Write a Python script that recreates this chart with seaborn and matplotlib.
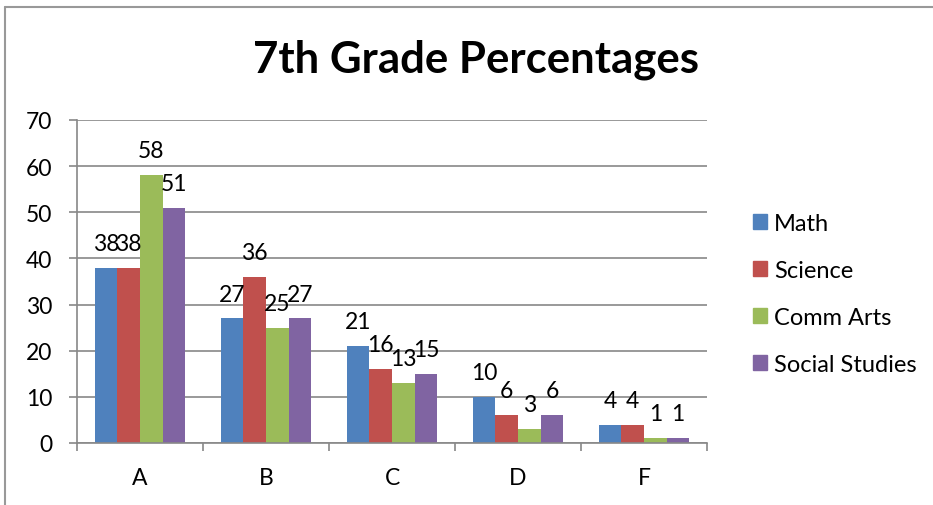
import numpy as np
import pandas as pd
import matplotlib
matplotlib.use('Agg')
import matplotlib.pyplot as plt
import seaborn as sns
from matplotlib.lines import Line2D

grades = ['A', 'B', 'C', 'D', 'F']
subjects = ['Math', 'Science', 'Comm Arts', 'Social Studies']
math = [38, 27, 21, 10, 4]
science = [38, 36, 16, 6, 4]
comm_arts = [58, 25, 13, 3, 1]
social_studies = [51, 27, 15, 6, 1]
yticks = [0, 10, 20, 30, 40, 50, 60, 70]

colors = ['#4F81BD', '#C0504D', '#9BBB59', '#8064A2']

df = pd.DataFrame({
    'grade': grades * 4,
    'subject': np.repeat(subjects, len(grades)),
    'pct': math + science + comm_arts + social_studies,
})

sns.set_theme(style='white')
plt.rcParams['font.family'] = ['Lato', 'DejaVu Sans']
plt.rcParams['text.color'] = 'black'
grid_c = '#888888'

fig = plt.figure(figsize=(9.33, 5.06), dpi=100)
ax = fig.add_axes([77 / 933, 1 - 444 / 506, 630 / 933, 323 / 506])

sns.barplot(data=df, x='grade', y='pct', hue='subject', hue_order=subjects,
            palette=colors, width=0.72, saturation=1, linewidth=0, ax=ax, errorbar=None)

for cont in ax.containers:
    ax.bar_label(cont, padding=10, fontsize=16.5, color='black')

ax.set_ylim(0, 70)
ax.set_yticks(yticks)
ax.set_xlim(-0.5, len(grades) - 0.5)
ax.set_xlabel('')
ax.set_ylabel('')
ax.yaxis.grid(True, color=grid_c, linewidth=1.2)
ax.set_axisbelow(True)

# category boundaries get the tick marks, labels sit in between
ax.set_xticks(np.arange(len(grades) + 1) - 0.5)
ax.set_xticklabels([])
ax.set_xticks(np.arange(len(grades)), minor=True)
ax.set_xticklabels(grades, minor=True, fontsize=16.5)
ax.tick_params(axis='x', which='major', direction='out', length=6, width=1.2, color=grid_c, bottom=True)
ax.tick_params(axis='x', which='minor', length=0, pad=17, labelcolor='black')
ax.tick_params(axis='y', direction='out', length=6, width=1.2, color=grid_c, left=True,
               pad=12, labelsize=16.5, labelcolor='black')

for s in ['top', 'right']:
    ax.spines[s].set_visible(False)
for s in ['left', 'bottom']:
    ax.spines[s].set_color(grid_c)
    ax.spines[s].set_linewidth(1.2)

ax.get_legend().remove()
handles = [plt.Rectangle((0, 0), 1, 1, color=c) for c in colors]
fig.legend(handles, subjects, loc='center left', bbox_to_anchor=(753 / 933, 1 - 295 / 506),
           frameon=False, fontsize=17, handlelength=0.6, handleheight=0.6,
           handletextpad=0.3, labelspacing=1.1, borderpad=0, borderaxespad=0)

fig.text(476 / 933, 1 - 60 / 506, '7th Grade Percentages', ha='center', va='center',
         fontsize=31.5, fontweight='bold', color='black')

# chart frame
fig.add_artist(Line2D([5 / 933, 1], [1 - 8 / 506] * 2, color='#999999', lw=1.5))
fig.add_artist(Line2D([5 / 933] * 2, [0, 1 - 8 / 506], color='#999999', lw=1.5))

fig.savefig('out.png', dpi=100)
